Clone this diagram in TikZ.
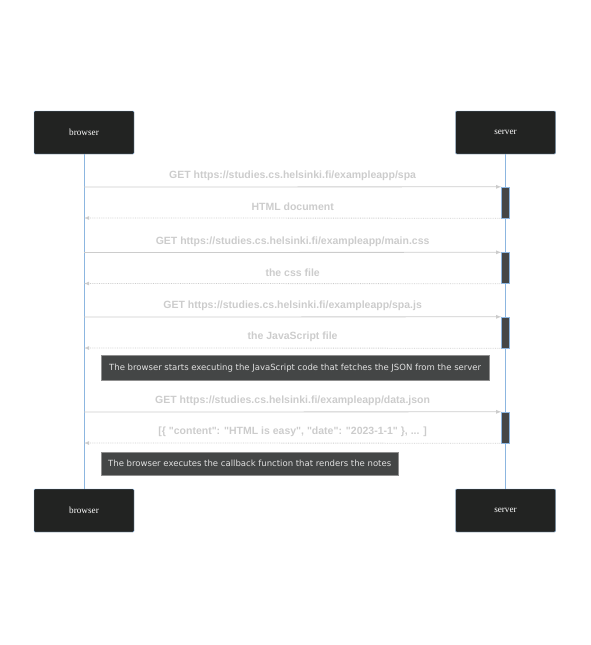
\documentclass[tikz,border=0pt]{standalone}
\usepackage{fontspec}
\setmainfont{Liberation Serif}
\newfontfamily\msgfont{Liberation Sans}
\newfontfamily\notefont{DejaVu Sans}
\usetikzlibrary{positioning}

\definecolor{actorfill}{RGB}{34,35,34}
\definecolor{lifeblue}{RGB}{140,182,224}
\definecolor{msggray}{RGB}{204,204,204}
\definecolor{actfill}{RGB}{68,70,70}
\definecolor{notetext}{RGB}{225,225,225}

\begin{document}
\begin{tikzpicture}[x=1pt,y=-1pt,>=latex,
    actor/.style={draw=lifeblue,fill=actorfill,text=white,minimum width=100pt,minimum height=43pt,
      inner sep=0pt,rounded corners=1pt,font=\fontsize{9.2}{11}\selectfont},
    act/.style={draw=lifeblue,fill=actfill,minimum width=8pt,minimum height=31pt,inner sep=0pt},
    msg/.style={draw=msggray,line width=0.8pt,->},
    reply/.style={msg,densely dotted},
    msglabel/.style={text=msggray,font=\msgfont\bfseries\fontsize{10.5}{12}\selectfont,inner sep=0pt,yshift=11pt},
    note/.style={draw=msggray!70!black,fill=actfill,text=notetext,inner sep=0pt,anchor=north west,
      font=\notefont\fontsize{8.5}{10}\selectfont,align=center}]
    \useasboundingbox (0,0) rectangle (590,645);

    \node[actor] (B) at (84,132.5) {browser};
    \node[actor] (S) at (505.5,132.5) {server};
    \node[actor] (B2) at (84,510.5) {browser};
    \node[actor] (S2) at (505.5,510.5) {server};

    \draw[lifeblue] (B) -- (B2);
    \draw[lifeblue] (S) -- (S2);

    \node[act] (A1) at (505.5,202.5) {};
    \node[act] (A2) at (505.5,268) {};
    \node[act] (A3) at (505.5,332.5) {};
    \node[act] (A4) at (505.5,427.5) {};

    \coordinate (b1) at (84,187);
    \coordinate (b2) at (84,218);
    \coordinate (b3) at (84,252.5);
    \coordinate (b4) at (84,283.5);
    \coordinate (b5) at (84,317);
    \coordinate (b6) at (84,348);
    \coordinate (b7) at (84,412);
    \coordinate (b8) at (84,443);

    \draw[msg] (b1) -- node[msglabel] {GET https://studies.cs.helsinki.fi/exampleapp/spa} (A1.north west);
    \draw[reply] (A1.south west) -- node[msglabel] {HTML document} (b2);
    \draw[msg] (b3) -- node[msglabel] {GET https://studies.cs.helsinki.fi/exampleapp/main.css} (A2.north west);
    \draw[reply] (A2.south west) -- node[msglabel] {the css file} (b4);
    \draw[msg] (b5) -- node[msglabel] {GET https://studies.cs.helsinki.fi/exampleapp/spa.js} (A3.north west);
    \draw[reply] (A3.south west) -- node[msglabel] {the JavaScript file} (b6);

    \node[note,minimum width=388pt,minimum height=25pt] (N1) at (101,355)
      {The browser starts executing the JavaScript code that fetches the JSON from the server};

    \draw[msg] (b7) -- node[msglabel] {GET https://studies.cs.helsinki.fi/exampleapp/data.json} (A4.north west);
    \draw[reply] (A4.south west) -- node[msglabel] {[\{ "content": "HTML is easy", "date": "2023-1-1" \}, ... ]} (b8);

    \node[note,minimum width=297pt,minimum height=23pt] (N2) at (101,452)
      {The browser executes the callback function that renders the notes};
\end{tikzpicture}
\end{document}
